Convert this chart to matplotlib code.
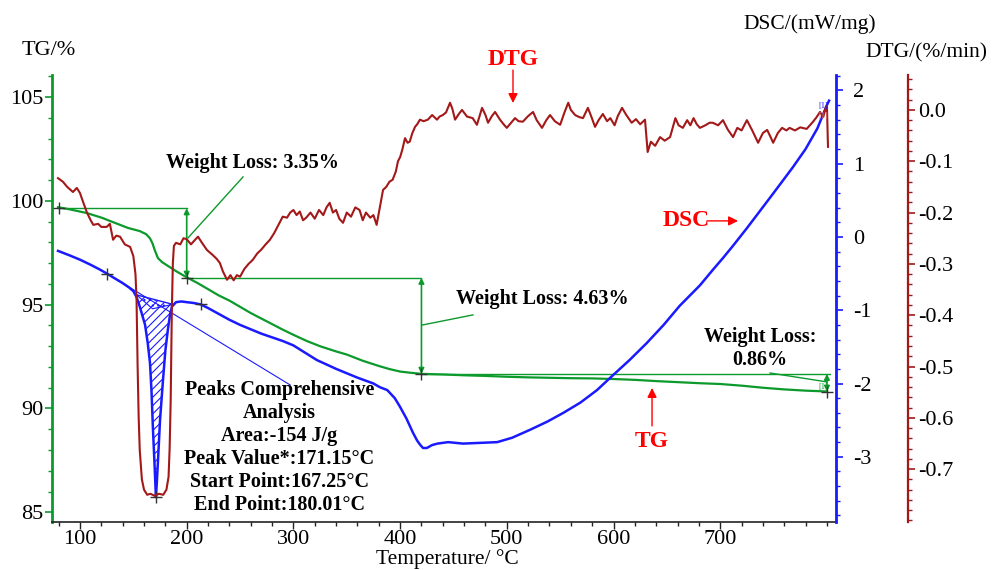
import matplotlib.pyplot as plt
import numpy as np
from matplotlib.ticker import MultipleLocator, FormatStrFormatter

plt.rcParams['font.family'] = ['Liberation Serif', 'DejaVu Serif']
plt.rcParams['axes.unicode_minus'] = False
plt.rcParams['hatch.linewidth'] = 0.8

GREEN = '#0c9a2c'
BLUE = '#1a1aff'
DRED = '#a31818'
RED = '#ff0000'

# TG curve (%)
tg_temp = [79.4, 90, 106.3, 120, 135, 145, 156, 162, 165.6, 168, 170, 173, 177, 181.5,
           190, 200, 210, 220, 230, 240, 250, 260, 275, 290, 300, 312.7, 325, 340, 350,
           365, 380, 390, 400, 410, 420, 440, 460, 480, 500, 520, 540, 560, 580, 600,
           620, 640, 660, 680, 700, 720, 740, 760, 780, 800]
tg_val = [99.70, 99.60, 99.42, 99.20, 98.90, 98.70, 98.55, 98.40, 98.20, 97.95, 97.64,
          97.25, 97.05, 96.90, 96.62, 96.32, 96.05, 95.75, 95.45, 95.20, 94.90, 94.60,
          94.20, 93.80, 93.55, 93.25, 93.00, 92.75, 92.60, 92.30, 92.05, 91.90, 91.78,
          91.72, 91.67, 91.64, 91.60, 91.57, 91.53, 91.50, 91.48, 91.46, 91.45, 91.42,
          91.38, 91.32, 91.27, 91.22, 91.18, 91.10, 91.00, 90.92, 90.86, 90.82]

# DSC curve (mW/mg)
dsc_temp = [79.4, 90, 100, 110, 118, 125.3, 132, 140, 146, 150, 153, 156, 159, 161,
            163.5, 165.6, 167, 168.4, 170, 171.15, 172, 173, 175, 177.8, 180, 182.5,
            184.5, 186.2, 190, 195, 200, 206, 213, 220, 230, 240, 250, 260, 270, 280,
            290, 300, 322, 340, 360, 375, 381, 388, 395, 400, 406, 412, 416, 419, 421.5,
            425, 430, 435, 445, 459, 475, 491, 505, 522, 538, 553, 569, 584.5, 600, 615,
            631, 647, 662, 681, 693, 703, 712, 725, 737, 750, 768, 780, 791, 800, 802]
dsc_val = [-0.19, -0.25, -0.31, -0.38, -0.44, -0.50, -0.56, -0.63, -0.69, -0.74, -0.82,
           -0.95, -1.10, -1.20, -1.45, -1.72, -2.10, -2.63, -3.15, -3.55, -3.35, -3.08,
           -2.50, -1.95, -1.55, -1.25, -1.05, -0.95, -0.89, -0.88, -0.89, -0.90, -0.92,
           -0.97, -1.05, -1.13, -1.20, -1.26, -1.32, -1.37, -1.42, -1.48, -1.68, -1.80,
           -1.92, -2.00, -2.05, -2.09, -2.20, -2.32, -2.48, -2.67, -2.78, -2.84, -2.88,
           -2.88, -2.84, -2.82, -2.80, -2.82, -2.81, -2.80, -2.74, -2.63, -2.52, -2.40,
           -2.26, -2.09, -1.88, -1.68, -1.45, -1.20, -0.94, -0.66, -0.45, -0.28, -0.12,
           0.12, 0.35, 0.60, 0.95, 1.20, 1.48, 1.80, 1.86]

# DTG curve (%/min)
dtg_temp = [79.4, 84, 88, 93.4, 97, 100, 103, 106.5, 110, 112.5, 117, 120, 125, 128, 131,
            134, 137.5, 142, 147, 150, 152, 153, 154, 155, 156, 158, 160, 163, 166, 170,
            174, 178, 181, 183, 184, 185, 186, 187, 188, 190, 194, 197, 200, 204, 207,
            210.6, 214, 219, 224, 228, 231, 234, 237.8, 241, 244, 247, 250, 254, 258, 262,
            266, 270, 274, 278, 282, 286, 290, 294, 297, 300, 303, 306, 309, 312, 316, 320,
            324, 328, 331, 334, 337, 340, 343, 346.5, 350, 354, 358, 362, 365, 368, 372,
            375, 378, 381, 384, 387, 390, 393, 396, 398, 400, 402, 404.6, 407, 409, 411.5,
            414, 416, 418.6, 422, 426, 430, 434.6, 437, 440, 443, 446.8, 449, 451.5, 455,
            458, 462.7, 468, 472, 476.8, 480, 482.4, 486, 489, 493.6, 497, 500, 504, 507.7,
            511, 515, 520, 524.6, 528, 533, 537, 540.5, 545, 550, 554, 557.6, 560, 564, 568,
            571.4, 576, 579, 582.7, 586, 590, 594, 597, 601, 604, 608, 612, 617, 621, 625,
            629.5, 632, 635, 639, 643.6, 648, 653, 658, 661, 665, 669, 672, 675, 678, 681,
            686, 690, 693, 698, 702.6, 707, 712, 716, 720, 725, 730, 735.5, 740, 744, 747,
            749.6, 754, 758, 762, 765, 770, 775, 781, 784, 787, 790, 793.5, 796.5, 799, 800,
            801]
dtg_val = [-0.133, -0.140, -0.150, -0.160, -0.152, -0.162, -0.180, -0.200, -0.215, -0.224,
           -0.222, -0.228, -0.228, -0.222, -0.253, -0.245, -0.247, -0.262, -0.267, -0.285,
           -0.320, -0.370, -0.500, -0.600, -0.663, -0.720, -0.740, -0.750, -0.748, -0.752,
           -0.748, -0.750, -0.740, -0.715, -0.660, -0.565, -0.400, -0.300, -0.265, -0.259,
           -0.262, -0.250, -0.252, -0.262, -0.255, -0.247, -0.258, -0.273, -0.282, -0.290,
           -0.298, -0.315, -0.331, -0.322, -0.332, -0.322, -0.325, -0.310, -0.300, -0.292,
           -0.280, -0.272, -0.262, -0.253, -0.240, -0.224, -0.208, -0.210, -0.200, -0.195,
           -0.205, -0.198, -0.215, -0.210, -0.200, -0.212, -0.195, -0.205, -0.190, -0.181,
           -0.200, -0.195, -0.212, -0.220, -0.200, -0.208, -0.190, -0.195, -0.215, -0.200,
           -0.210, -0.205, -0.224, -0.190, -0.156, -0.150, -0.140, -0.136, -0.120, -0.100,
           -0.092, -0.078, -0.055, -0.064, -0.062, -0.045, -0.033, -0.028, -0.019, -0.022,
           -0.019, -0.010, -0.019, -0.013, -0.010, -0.005, 0.014, 0.002, -0.019, -0.008,
           0.000, -0.013, -0.016, -0.029, 0.004, -0.010, -0.025, -0.012, -0.004, -0.019,
           -0.028, -0.035, -0.025, -0.016, -0.022, -0.023, -0.012, -0.004, -0.020, -0.035,
           -0.020, -0.010, -0.022, -0.029, -0.005, 0.014, 0.000, -0.010, -0.014, -0.016,
           0.004, -0.012, -0.033, -0.020, -0.008, -0.022, -0.016, -0.030, -0.012, 0.004,
           -0.010, -0.025, -0.018, -0.028, -0.019, -0.082, -0.062, -0.070, -0.053, -0.060,
           -0.053, -0.016, -0.030, -0.035, -0.020, -0.030, -0.016, -0.028, -0.035, -0.030,
           -0.025, -0.025, -0.030, -0.020, -0.038, -0.053, -0.035, -0.040, -0.020, -0.040,
           -0.064, -0.045, -0.039, -0.052, -0.064, -0.045, -0.035, -0.040, -0.035, -0.040,
           -0.034, -0.037, -0.030, -0.023, -0.015, -0.004, -0.014, 0.006, 0.008, -0.072]

# mass loss steps
tg_start = 99.65
step_temp = [80, 200, 420, 800]
step_loss = [3.35, 4.63, 0.86]

# DSC peak analysis
peak_area = -154
peak_temp = 171.15
peak_start = 167.25
peak_end = 180.01
dsc_marks_temp = [125.3, 213]
base_temp = [153, 187]
base_dsc = [-0.79, -0.92]
onset_temp = [153, 168, 187]
onset_dsc = [-0.79, -0.98, -0.92]
leader_temp = [125.3, 297]
leader_dsc = [-0.50, -2.02]

levels = tg_start - np.concatenate([[0], np.cumsum(step_loss)])

fig = plt.figure(figsize=(9.95, 5.7), dpi=100)
ax = fig.add_axes([0.0523, 0.0842, 0.7879, 0.7842])
ax2 = ax.twinx()
ax3 = ax.twinx()
ax3.spines['right'].set_position(('axes', 1.092))

# TG
ax.plot(tg_temp, tg_val, color=GREEN, lw=1.6, zorder=3)
for i in range(3):
    x_end = step_temp[i + 1] if i < 2 else step_temp[-1] + 3
    ax.plot([step_temp[i], x_end], [levels[i], levels[i]], color=GREEN, lw=1.0)
    ax.annotate('', xy=(step_temp[i + 1], levels[i + 1]), xytext=(step_temp[i + 1], levels[i]),
                arrowprops=dict(arrowstyle='<|-|>', color=GREEN, lw=1.2,
                                mutation_scale=8, shrinkA=0, shrinkB=0))
ax.plot(step_temp, levels, ls='none', marker='+', ms=9, mew=1.0, color='#333333', zorder=5)

# DSC
ax2.plot(dsc_temp, dsc_val, color=BLUE, lw=1.8, zorder=3)
t_fill = np.linspace(base_temp[0], base_temp[1], 120)
ax2.fill_between(t_fill, np.interp(t_fill, dsc_temp, dsc_val),
                 np.interp(t_fill, base_temp, base_dsc),
                 facecolor='none', edgecolor=BLUE, hatch='////', lw=0)
ax2.fill_between(t_fill, np.interp(t_fill, onset_temp, onset_dsc),
                 np.interp(t_fill, base_temp, base_dsc),
                 facecolor='none', edgecolor=BLUE, hatch='...', lw=0)
ax2.plot(base_temp, base_dsc, color=BLUE, lw=1.0)
ax2.plot(onset_temp, onset_dsc, color=BLUE, lw=0.8)
ax2.plot(leader_temp, leader_dsc, color=BLUE, lw=0.8)
ax2.plot(dsc_marks_temp, np.interp(dsc_marks_temp, dsc_temp, dsc_val), ls='none',
         marker='+', ms=9, mew=1.0, color='#333333', zorder=5)
ax2.plot([peak_temp], [np.interp(peak_temp, dsc_temp, dsc_val)], ls='none',
         marker='+', ms=9, mew=1.0, color='#333333', zorder=5)

# DTG
ax3.plot(dtg_temp, dtg_val, color=DRED, lw=1.5, zorder=2)

# axes styling
ax.set_xlim(73.8, 808.5)
ax.set_ylim(84.53, 106.07)
ax2.set_ylim(-3.89, 2.21)
ax3.set_ylim(-0.803, 0.068)

ax.xaxis.set_minor_locator(MultipleLocator(20))
ax.set_xticks([100, 200, 300, 400, 500, 600, 700])
ax.yaxis.set_major_locator(MultipleLocator(5))
ax.yaxis.set_minor_locator(MultipleLocator(1))
ax2.yaxis.set_major_locator(MultipleLocator(1))
ax2.yaxis.set_minor_locator(MultipleLocator(0.2))
ax3.set_yticks(np.arange(-7, 1) / 10)
ax3.yaxis.set_minor_locator(MultipleLocator(0.02))
ax3.yaxis.set_major_formatter(FormatStrFormatter('%.1f'))

for a in (ax, ax2, ax3):
    a.spines['top'].set_visible(False)
ax.spines['right'].set_visible(False)
ax.spines['left'].set_color(GREEN)
ax.spines['left'].set_linewidth(2)
ax.spines['bottom'].set_color('#222222')
ax.spines['bottom'].set_linewidth(1.2)
for s in ('left', 'bottom'):
    ax2.spines[s].set_visible(False)
    ax3.spines[s].set_visible(False)
ax2.spines['right'].set_color(BLUE)
ax2.spines['right'].set_linewidth(2)
ax3.spines['right'].set_color(DRED)
ax3.spines['right'].set_linewidth(1.6)

ax.tick_params(axis='x', which='major', length=5, width=1, labelsize=16, pad=1, color='#222222')
ax.tick_params(axis='x', which='minor', length=3, width=1, color='#222222')
ax.tick_params(axis='y', which='major', length=5, width=1.2, labelsize=16, pad=1, color=GREEN)
ax.tick_params(axis='y', which='minor', length=3, width=1, color=GREEN)
ax2.tick_params(axis='y', which='major', length=5, width=1.2, labelsize=16, pad=7, color=BLUE)
ax2.tick_params(axis='y', which='minor', length=3, width=1, color=BLUE)
ax3.tick_params(axis='y', which='major', length=5, width=1.2, labelsize=16, pad=2, color=DRED)
ax3.tick_params(axis='y', which='minor', length=3, width=1, color=DRED)

fig.text(0.049, 0.912, 'TG/%', fontsize=16, ha='center', va='center')
fig.text(0.814, 0.958, 'DSC/(mW/mg)', fontsize=15.5, ha='center', va='center')
fig.text(0.931, 0.907, 'DTG/(%/min)', fontsize=15.5, ha='center', va='center')
fig.text(0.450, 0.002, 'Temperature/ °C', fontsize=15.5, ha='center', va='bottom')

# annotations in TG data coordinates, drawn on the top axes
tr = ax.transData
bold = dict(fontsize=14.5, fontweight='bold', ha='center', va='center', transform=tr)
ax3.text(262, 101.83, 'Weight Loss: %.2f%%' % step_loss[0], **bold)
ax3.text(533, 95.28, 'Weight Loss: %.2f%%' % step_loss[1], **bold)
ax3.text(737, 92.87, 'Weight Loss:\n%.2f%%' % step_loss[2], linespacing=1.2, **bold)
ax3.text(287, 88.1, 'Peaks Comprehensive\nAnalysis\nArea:%d J/g\nPeak Value*:%.2f°C\n'
         'Start Point:%.2f°C\nEnd Point:%.2f°C' % (peak_area, peak_temp, peak_start, peak_end),
         linespacing=1.2, **bold)

ax3.plot([252.8, 201.2], [101.16, 98.22], color=GREEN, lw=1.0, transform=tr)
ax3.plot([468.3, 420.5], [94.51, 94.02], color=GREEN, lw=1.0, transform=tr)
ax3.plot([746.7, 800.1], [91.71, 91.28], color=GREEN, lw=1.0, transform=tr)

red = dict(fontsize=17, fontweight='bold', color=RED, ha='center', va='center')
arrow_red = dict(arrowstyle='-|>', color=RED, lw=1.0, mutation_scale=14, shrinkA=0, shrinkB=0)
ax3.annotate('', xy=(505.8, 104.72), xytext=(505.8, 106.31), xycoords=tr, arrowprops=arrow_red,
             annotation_clip=False)
ax3.text(505.8, 106.8, 'DTG', transform=tr, clip_on=False, **red)
ax3.annotate('', xy=(716.7, 99.04), xytext=(687.6, 99.04), xycoords=tr, arrowprops=arrow_red)
ax3.text(668, 99.04, 'DSC', transform=tr, **red)
ax3.annotate('', xy=(636.1, 90.99), xytext=(636.1, 89.16), xycoords=tr, arrowprops=arrow_red)
ax3.text(636.1, 88.43, 'TG', transform=tr, **red)

# segment labels at the curve ends
ax3.text(797, 104.6, '[1]', fontsize=6, color=BLUE, transform=tr, ha='center', va='center')
ax3.text(797, 104.1, '[1]', fontsize=6, color='#e08080', transform=tr, ha='center', va='center')
ax3.text(797, 91.05, '[1]', fontsize=6, color=GREEN, transform=tr, ha='center', va='center')

fig.savefig('out.png', dpi=100)
